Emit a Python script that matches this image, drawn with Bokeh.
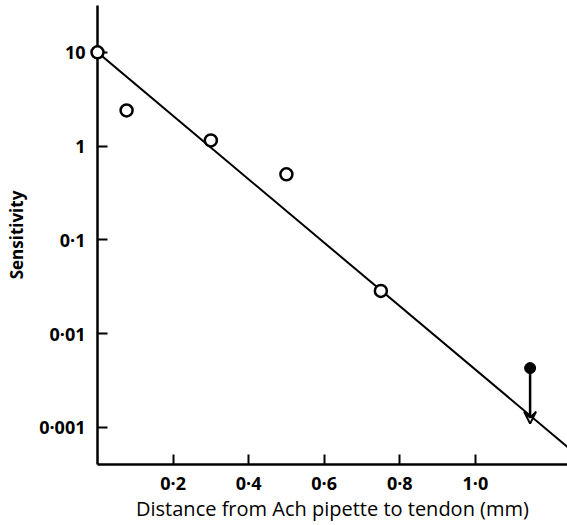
from bokeh.plotting import figure
from bokeh.models import FixedTicker, Range1d, Arrow, VeeHead
from bokeh.embed import file_html
from bokeh.resources import INLINE

# Data
dist_open = [0.0, 0.077, 0.30, 0.50, 0.75]
sens_open = [10.0, 2.4, 1.15, 0.50, 0.0286]
dist_filled = [1.145]
sens_filled = [0.0043]
arrow_x = [1.145]
arrow_from = [0.0043]
arrow_to = [0.0011]
fit_x = [0.0, 1.244]
fit_y = [10.0, 0.00062]

x_ticks = [0.2, 0.4, 0.6, 0.8, 1.0]
x_tick_labels = ["0·2", "0·4", "0·6", "0·8", "1·0"]
y_ticks = [0.001, 0.01, 0.1, 1, 10]
y_tick_labels = ["0·001", "0·01", "0·1", "1", "10"]

FONT = "Open Sans"

p = figure(width=567, height=525, y_axis_type="log",
           x_range=Range1d(0, 1.244), y_range=Range1d(0.000403, 31.6),
           output_backend="svg", toolbar_location=None,
           min_border_left=97, min_border_right=0, min_border_top=5, min_border_bottom=61)
p.outline_line_color = None
p.grid.visible = False
p.background_fill_color = "white"
p.border_fill_color = "white"

p.line(fit_x, fit_y, line_color="black", line_width=2)
p.scatter(dist_open, sens_open, size=12, marker="circle", fill_color="white",
          line_color="black", line_width=2.5, level="overlay")
p.scatter(dist_filled, sens_filled, size=11, marker="circle", fill_color="black",
          line_color="black")
for xa, y0, y1 in zip(arrow_x, arrow_from, arrow_to):
    p.add_layout(Arrow(end=VeeHead(size=12, line_color="black", line_width=2, fill_color=None),
                       x_start=xa, y_start=y0, x_end=xa, y_end=y1,
                       line_color="black", line_width=2.5))

p.xaxis.ticker = FixedTicker(ticks=x_ticks)
p.xaxis.major_label_overrides = {t: l for t, l in zip(x_ticks, x_tick_labels)}
p.yaxis.ticker = FixedTicker(ticks=y_ticks)
p.yaxis.major_label_overrides = {float(t): l for t, l in zip(y_ticks, y_tick_labels)}

for ax in (p.xaxis, p.yaxis):
    ax.minor_tick_line_color = None
    ax.major_tick_out = 0
    ax.major_tick_in = 10
    ax.major_tick_line_width = 2
    ax.axis_line_width = 2.5
    ax.axis_line_color = "black"
    ax.major_tick_line_color = "black"
    ax.major_label_text_font = FONT
    ax.major_label_text_font_size = "18px"
    ax.major_label_text_font_style = "bold"
    ax.major_label_text_color = "black"
    ax.axis_label_text_font = FONT
    ax.axis_label_text_font_style = "normal"
    ax.axis_label_text_color = "black"

p.xaxis.axis_label = "Distance from Ach pipette to tendon (mm)"
p.xaxis.axis_label_text_font_size = "20px"
p.xaxis.major_label_standoff = 6
p.xaxis.axis_label_standoff = -3
p.yaxis.axis_label = "Sensitivity"
p.yaxis.axis_label_text_font_size = "17px"
p.yaxis.axis_label_text_font_style = "bold"
p.yaxis.major_label_standoff = 12
p.yaxis.axis_label_standoff = 8

open("out.html", "w").write(file_html(p, INLINE))
